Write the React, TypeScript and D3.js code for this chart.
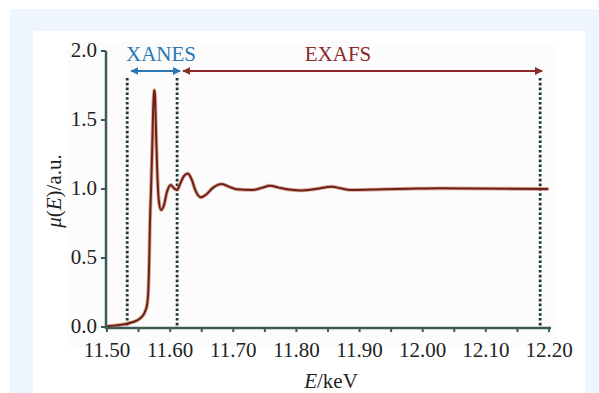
import React from "react";
import * as d3 from "d3";

// Absorption spectrum μ(E) around the edge (energy in keV, normalised absorption)
const energy = [
  11.5, 11.51, 11.52, 11.53, 11.54, 11.547, 11.553, 11.558, 11.561, 11.563,
  11.5645, 11.5655, 11.5663, 11.567, 11.568, 11.5697, 11.5715, 11.573, 11.5745, 11.575,
  11.576, 11.5765, 11.578, 11.5795, 11.582, 11.5855, 11.59, 11.595, 11.601, 11.606,
  11.611, 11.616, 11.622, 11.628, 11.634, 11.64, 11.6485, 11.657, 11.668, 11.6817,
  11.694, 11.7055, 11.731, 11.745, 11.758, 11.772, 11.785, 11.806, 11.83, 11.856,
  11.87, 11.885, 11.937, 11.98, 12.028, 12.08, 12.13, 12.199,
];
const mu = [
  0.005, 0.01, 0.015, 0.022, 0.034, 0.046, 0.065, 0.09, 0.12, 0.15,
  0.2, 0.27, 0.38, 0.51, 0.75, 0.99, 1.28, 1.56, 1.7, 1.717,
  1.68, 1.62, 1.35, 1.138, 0.92, 0.848, 0.88, 0.98, 1.029, 1.005,
  0.993, 1.04, 1.095, 1.112, 1.07, 0.99, 0.94, 0.96, 1.01, 1.036,
  1.015, 0.998, 0.993, 1.008, 1.024, 1.01, 0.998, 0.99, 1.0, 1.017,
  1.005, 0.993, 0.998, 1.002, 1.005, 1.003, 1.002, 1.0,
];

const xTickValues = [11.5, 11.6, 11.7, 11.8, 11.9, 12.0, 12.1, 12.2];
const xMinorTicks = [11.55, 11.65, 11.75, 11.85, 11.95, 12.05, 12.15];
const yTickValues = [0, 0.5, 1.0, 1.5, 2.0];

// Region boundaries (keV)
const xanesStart = 11.532;
const xanesEnd = 11.611;
const exafsEnd = 12.186;

const regionLabels = ["XANES", "EXAFS"];

const W = 599;
const H = 393;
const FONT = '"Liberation Serif", "Times New Roman", serif';
const AXIS = "#3c5a5a";

export default function App() {
  const x = d3.scaleLinear().domain([11.5, 12.2]).range([107, 549]);
  const y = d3.scaleLinear().domain([0, 2]).range([327, 51]);

  const data = energy.map((e, i) => [e, mu[i]] as [number, number]);
  const line = d3
    .line<[number, number]>()
    .x((d) => x(d[0]))
    .y((d) => y(d[1]))
    .curve(d3.curveMonotoneX);
  const path = line(data) || "";

  const axisY = 328;
  const arrowY = 71;
  const dashTop = 78;

  const blueL = x(xanesStart) + 4;
  const blueR = x(xanesEnd) + 3;
  const redL = x(xanesEnd) + 6;
  const redR = x(exafsEnd) + 2;

  return (
    <svg
      width={W}
      height={H}
      style={{ position: "absolute", left: 0, top: 0, display: "block" }}
      fontFamily={FONT}
    >
      <defs>
        <marker id="arB" viewBox="0 0 10 10" refX="9" refY="5" markerWidth="4" markerHeight="4" orient="auto-start-reverse">
          <path d="M0,0 L10,5 L0,10 z" fill="#2a78b6" />
        </marker>
        <marker id="arR" viewBox="0 0 10 10" refX="9" refY="5" markerWidth="4" markerHeight="4" orient="auto-start-reverse">
          <path d="M0,0 L10,5 L0,10 z" fill="#8a2a2c" />
        </marker>
      </defs>

      <rect x={0} y={0} width={W} height={H} fill="#ffffff" />
      <rect x={10} y={9} width={W - 10} height={H - 9} fill="#eef5fc" />
      <rect x={33} y={31} width={552} height={H - 31} fill="#ffffff" />
      <rect x={67} y={42} width={491} height={306} fill="#fcfcfc" />

      {/* region boundaries */}
      {[xanesStart, xanesEnd, exafsEnd].map((e, i) => (
        <line
          key={i}
          x1={x(e)}
          x2={x(e)}
          y1={dashTop}
          y2={axisY}
          stroke="#1d3838"
          strokeWidth={2.8}
          strokeDasharray="2.6,2.2"
        />
      ))}

      {/* region arrows */}
      <line x1={blueL} x2={blueR} y1={arrowY} y2={arrowY} stroke="#2a78b6" strokeWidth={2}
        markerStart="url(#arB)" markerEnd="url(#arB)" />
      <line x1={redL} x2={redR} y1={arrowY} y2={arrowY} stroke="#8a2a2c" strokeWidth={2}
        markerStart="url(#arR)" markerEnd="url(#arR)" />
      <text x={161} y={61} fontSize={21} fill="#2a78b6" textAnchor="middle">{regionLabels[0]}</text>
      <text x={338} y={61} fontSize={21} fill="#8a2a2c" textAnchor="middle">{regionLabels[1]}</text>

      {/* spectrum */}
      <path d={path} fill="none" stroke="#c88a74" strokeWidth={3.8} strokeOpacity={0.7} strokeLinejoin="round" />
      <path d={path} fill="none" stroke="#6f1f16" strokeWidth={2} strokeLinejoin="round" />

      {/* axes */}
      <line x1={106} x2={106} y1={51} y2={axisY + 1} stroke={AXIS} strokeWidth={2.5} />
      <line x1={105} x2={x(12.2) + 2} y1={axisY} y2={axisY} stroke={AXIS} strokeWidth={2.5} />
      {yTickValues.map((v) => (
        <g key={v}>
          <line x1={101} x2={106} y1={y(v)} y2={y(v)} stroke={AXIS} strokeWidth={2} />
          <text x={97} y={y(v)} dy="0.3em" fontSize={21} textAnchor="end" fill="#222">
            {d3.format(".1f")(v)}
          </text>
        </g>
      ))}
      {xTickValues.concat(xMinorTicks).map((v) => (
        <line key={v} x1={x(v)} x2={x(v)} y1={axisY} y2={axisY + 4} stroke={AXIS} strokeWidth={2} />
      ))}
      {xTickValues.map((v) => (
        <text key={v} x={x(v)} y={357} fontSize={21} textAnchor="middle" fill="#222">
          {d3.format(".2f")(v)}
        </text>
      ))}

      {/* axis titles */}
      <text x={331} y={388} fontSize={21} textAnchor="middle" fill="#222">
        <tspan fontStyle="italic">E</tspan>/keV
      </text>
      <text transform="translate(61,191) rotate(-90)" fontSize={21} textAnchor="middle" fill="#222">
        <tspan fontStyle="italic">μ</tspan>(<tspan fontStyle="italic">E</tspan>)/a.u.
      </text>
    </svg>
  );
}
